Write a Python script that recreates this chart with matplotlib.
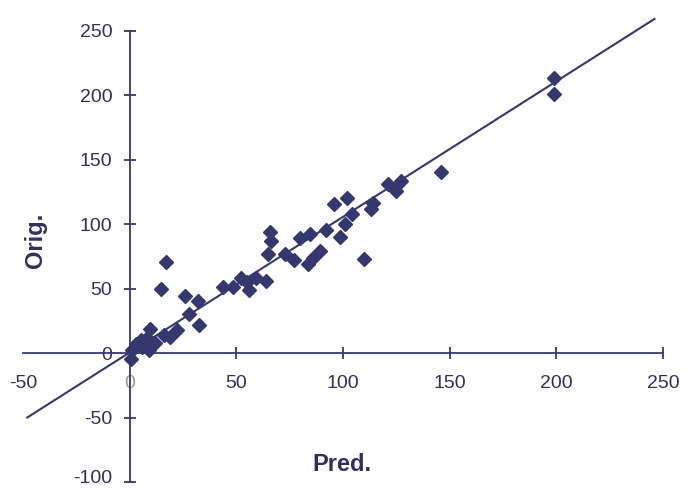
import numpy as np
import matplotlib.pyplot as plt
from matplotlib.transforms import ScaledTranslation

plt.rcParams['font.family'] = ['Liberation Sans', 'DejaVu Sans']

# Scatter points (Pred., Orig.)
pred = [0.5, 1, 3, 5.5, 6, 9, 9.5, 8, 12, 19, 22, 16, 14.8, 17.2,
        26, 32, 28, 32.5, 43.8, 48.4, 52, 55, 56, 59.4, 64, 65,
        66.4, 65.6, 72.7, 77, 80, 84.4, 83.6, 86, 89, 92, 96, 102,
        98.6, 101, 104, 110, 113, 114, 121, 125, 127, 146, 199, 199]
orig = [-5, 2, 7, 10, 5, 2, 19, 12, 8, 12.5, 18, 14, 50, 70.5,
        44, 40, 30, 22, 51, 51, 58, 55, 48.6, 57.8, 56, 77,
        87, 93.5, 77, 72, 89, 92.5, 69, 74, 79, 95, 115.6, 120.5,
        90, 100, 107.7, 73, 112, 116.6, 131, 125.6, 133, 140, 213, 201]

# fitted line, end points as drawn
line_x = [-48, 246]
line_y = [-50, 259]

xticks = [-50, 0, 50, 100, 150, 200, 250]
yticks = [-100, -50, 0, 50, 100, 150, 200, 250]

navy = '#34386f'
txt = '#2f305e'

fig = plt.figure(figsize=(6.88, 4.90), dpi=100)
ax = fig.add_axes([0.0334, 0.0163, 0.9303, 0.953])

ax.plot(line_x, line_y, color=navy, lw=1.5, clip_on=False, zorder=2)
ax.plot(pred, orig, 'D', color=navy, ms=7.5, mec=navy, clip_on=False, zorder=3)

ax.set_xlim(-50, 250)
ax.set_ylim(-100, 262)

for s in ['top', 'right']:
    ax.spines[s].set_visible(False)
ax.spines['left'].set_position(('data', 0))
ax.spines['bottom'].set_position(('data', 0))
ax.spines['left'].set_bounds(-100, 250)
ax.spines['bottom'].set_bounds(-50, 250)
for s in ['left', 'bottom']:
    ax.spines[s].set_color(navy)
    ax.spines[s].set_linewidth(1.3)

ax.set_xticks(xticks)
ax.set_yticks(yticks)
ax.set_xticklabels([str(v) for v in xticks])
ax.set_yticklabels([str(v) for v in yticks])
ax.tick_params(axis='both', direction='inout', length=9, width=1.3,
               color=navy, labelcolor=txt, labelsize=14)
ax.tick_params(axis='x', pad=11)
ax.tick_params(axis='y', pad=8)

# no tick marks at the crossing / left end
for t in ax.xaxis.get_major_ticks()[:2]:
    t.tick1line.set_visible(False)
ax.yaxis.get_major_ticks()[2].tick1line.set_visible(False)
ax.get_xticklabels()[1].set_color('#9a9aae')

# lift the bottom label a little so it stays inside the picture
lab = ax.yaxis.get_major_ticks()[0].label1
lab.set_transform(lab.get_transform() + ScaledTranslation(0, 4 / 72, fig.dpi_scale_trans))

fig.text(0.051, 0.51, 'Orig.', rotation=90, ha='center', va='center',
         fontsize=17, fontweight='bold', color=txt)
fig.text(0.497, 0.053, 'Pred.', ha='center', va='center',
         fontsize=17, fontweight='bold', color=txt)

fig.savefig('out.png', dpi=100, facecolor='white')
